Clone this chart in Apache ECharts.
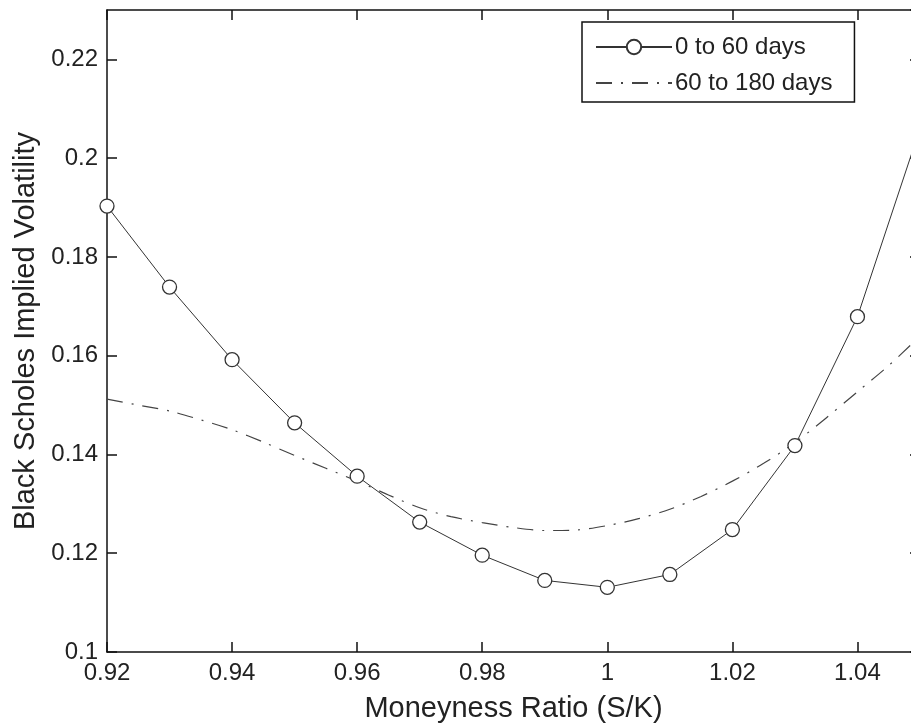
<!DOCTYPE html>
<html>
<head>
<meta charset="utf-8">
<script src="https://cdn.jsdelivr.net/npm/echarts@6/dist/echarts.min.js"></script>
<style>
html,body{margin:0;padding:0;background:#fff;overflow:hidden;}
#chart{width:911px;height:723px;}
</style>
</head>
<body>
<div id="chart"></div>
<script>
// Series 1: 0 to 60 days (markers)
const shortX = [0.92, 0.93, 0.94, 0.95, 0.96, 0.97, 0.98, 0.99, 1.00, 1.01, 1.02, 1.03, 1.04, 1.05];
const shortY = [0.1903, 0.1739, 0.1592, 0.1464, 0.1356, 0.1263, 0.1196, 0.1145, 0.1131, 0.1157, 0.1248, 0.1418, 0.1679, 0.2060];
// Series 2: 60 to 180 days (dash-dot curve)
const longX = [0.92, 0.925, 0.93, 0.935, 0.94, 0.945, 0.95, 0.955, 0.96, 0.965, 0.97, 0.975, 0.98, 0.985, 0.99, 0.995, 1.00, 1.005, 1.01, 1.015, 1.02, 1.025, 1.03, 1.035, 1.04, 1.045, 1.05];
const longY = [0.1512, 0.1500, 0.1488, 0.1470, 0.1450, 0.1425, 0.1398, 0.1372, 0.1346, 0.1318, 0.1292, 0.1274, 0.1262, 0.1252, 0.1246, 0.1247, 0.1256, 0.1270, 0.1289, 0.1315, 0.1346, 0.1382, 0.1424, 0.1474, 0.1527, 0.1580, 0.1640];
const seriesNames = ['0 to 60 days', '60 to 180 days'];
const xTitle = 'Moneyness Ratio (S/K)';
const yTitle = 'Black Scholes Implied Volatility';

const FONT = '"Liberation Sans", Arial, sans-serif';
const chart = echarts.init(document.getElementById('chart'), null, {renderer: 'canvas'});
const axisLineStyle = {color: '#111', width: 1.5};
const tickStyle = {show: true, inside: true, length: 10, lineStyle: {color: '#111', width: 1.5}};

chart.setOption({
  animation: false,
  backgroundColor: '#fff',
  grid: {left: 107, right: -9, top: 10, bottom: 71, containLabel: false, outerBoundsMode: 'none'},
  legend: {
    orient: 'vertical',
    left: 582, top: 22,
    padding: [13, 22, 7, 13],
    itemWidth: 76, itemHeight: 18, itemGap: 12,
    backgroundColor: '#fff',
    borderColor: '#111', borderWidth: 1.5, borderRadius: 0,
    textStyle: {fontFamily: FONT, fontSize: 24, color: '#222', padding: [0,0,0,-2]},
    data: [
      {name: seriesNames[0]},
      {name: seriesNames[1], itemStyle: {opacity: 0}}
    ]
  },
  xAxis: [{
    type: 'value', min: 0.92, max: 1.05, interval: 0.02,
    position: 'bottom',
    name: xTitle, nameLocation: 'middle', nameGap: 42,
    nameTextStyle: {fontFamily: FONT, fontSize: 29, color: '#222'},
    axisLine: {show: true, lineStyle: axisLineStyle},
    axisTick: tickStyle,
    axisLabel: {fontFamily: FONT, fontSize: 24, color: '#222', margin: 9, showMaxLabel: false},
    splitLine: {show: false}
  }, {
    type: 'value', min: 0.92, max: 1.05, interval: 0.02,
    position: 'top',
    axisLine: {show: true, lineStyle: axisLineStyle},
    axisTick: tickStyle,
    axisLabel: {show: false},
    splitLine: {show: false}
  }],
  yAxis: [{
    type: 'value', min: 0.1, max: 0.23, interval: 0.02,
    position: 'left',
    name: yTitle, nameLocation: 'middle', nameGap: 62,
    nameTextStyle: {fontFamily: FONT, fontSize: 29, color: '#222'},
    axisLine: {show: true, lineStyle: axisLineStyle},
    axisTick: tickStyle,
    axisLabel: {fontFamily: FONT, fontSize: 24, color: '#222', margin: 9, showMaxLabel: false},
    splitLine: {show: false}
  }, {
    type: 'value', min: 0.1, max: 0.23, interval: 0.02,
    position: 'right',
    axisLine: {show: true, lineStyle: axisLineStyle},
    axisTick: tickStyle,
    axisLabel: {show: false},
    splitLine: {show: false}
  }],
  series: [{
    name: seriesNames[0],
    type: 'line',
    xAxisIndex: 0, yAxisIndex: 0,
    data: shortX.map((x, i) => [x, shortY[i]]),
    symbol: 'circle', symbolSize: 14,
    showAllSymbol: true,
    lineStyle: {color: '#333', width: 1},
    itemStyle: {color: '#fff', borderColor: '#333', borderWidth: 1.3},
    z: 3
  }, {
    name: seriesNames[1],
    type: 'line',
    xAxisIndex: 0, yAxisIndex: 0,
    data: longX.map((x, i) => [x, longY[i]]),
    smooth: 0.3,
    symbol: 'none',
    lineStyle: {color: '#444', width: 1.2, type: [16, 9, 2, 9]},
    itemStyle: {color: '#444'},
    z: 2
  }]
});
</script>
</body>
</html>
